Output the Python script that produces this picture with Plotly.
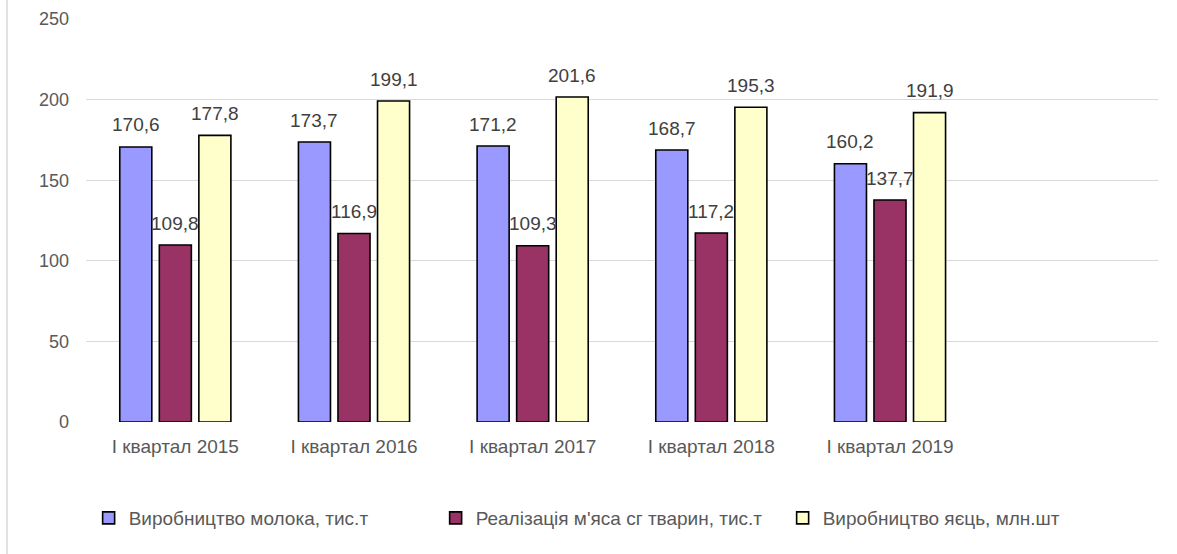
import plotly.graph_objects as go

categories = ["I квартал 2015", "I квартал 2016", "I квартал 2017", "I квартал 2018", "I квартал 2019"]
series_names = ["Виробництво молока, тис.т", "Реалізація м'яса сг тварин, тис.т", "Виробництво яєць, млн.шт"]
milk = [170.6, 173.7, 171.2, 168.7, 160.2]
meat = [109.8, 116.9, 109.3, 117.2, 137.7]
eggs = [177.8, 199.1, 201.6, 195.3, 191.9]
y_ticks = [0, 50, 100, 150, 200, 250]

colors = ["#9999FF", "#993366", "#FFFFCC"]
values = [milk, meat, eggs]

FONT = "Liberation Sans, Arial, sans-serif"
W, H = 1177, 554
ml, mr, mt, mb = 86, 19, 19, 132
plot_w = W - ml - mr
plot_h = H - mt - mb
bargap = 0.336
n_slots = 6
slot_px = plot_w / n_slots
pitch = slot_px * (1 - bargap) / 3

fig = go.Figure()
for name, vals, col in zip(series_names, values, colors):
    fig.add_trace(go.Bar(
        x=categories, y=vals, name=name,
        marker=dict(color=col, line=dict(color="#000000", width=1.6)),
    ))

annotations = []
for i, vals in enumerate(values):
    for cat, v in zip(categories, vals):
        annotations.append(dict(
            x=cat, y=v, xref="x", yref="y",
            text=f"{v:.1f}".replace(".", ","),
            showarrow=False, xanchor="center", yanchor="middle",
            xshift=(i - 1) * pitch, yshift=22,
            font=dict(family=FONT, size=19, color="#404040"),
        ))

fig.update_layout(
    width=W, height=H,
    margin=dict(l=ml, r=mr, t=mt, b=mb, autoexpand=False),
    paper_bgcolor="white", plot_bgcolor="white",
    barmode="group", bargap=bargap, bargroupgap=0.19,
    font=dict(family=FONT, size=19, color="#595959"),
    annotations=annotations,
    showlegend=True,
    legend=dict(
        orientation="h", x=0.488, xanchor="center",
        y=-(518 - (H - mb)) / plot_h, yanchor="middle",
        font=dict(family=FONT, size=19, color="#595959"),
        entrywidth=302, itemwidth=30,
    ),
    shapes=[dict(type="line", xref="paper", yref="paper",
                 x0=(7 - ml) / plot_w, x1=(7 - ml) / plot_w,
                 y0=-mb / plot_h, y1=1 + mt / plot_h,
                 line=dict(color="#d9d9d9", width=1.5))],
)
fig.update_xaxes(
    type="category", categoryorder="array", categoryarray=categories,
    range=[-0.5, n_slots - 0.5], showgrid=False, showline=False,
    ticks="", ticklabelstandoff=11,
    tickfont=dict(family=FONT, size=19, color="#595959"),
)
fig.update_yaxes(
    range=[0, 250], tickvals=y_ticks, showgrid=True, gridcolor="#d9d9d9", gridwidth=1.2,
    zeroline=False, showline=False, ticks="", ticklabelstandoff=16,
    tickfont=dict(family=FONT, size=18, color="#595959"),
)

fig.write_html("out.html", config={"displayModeBar": False},
               post_script="document.body.style.margin='0';")
